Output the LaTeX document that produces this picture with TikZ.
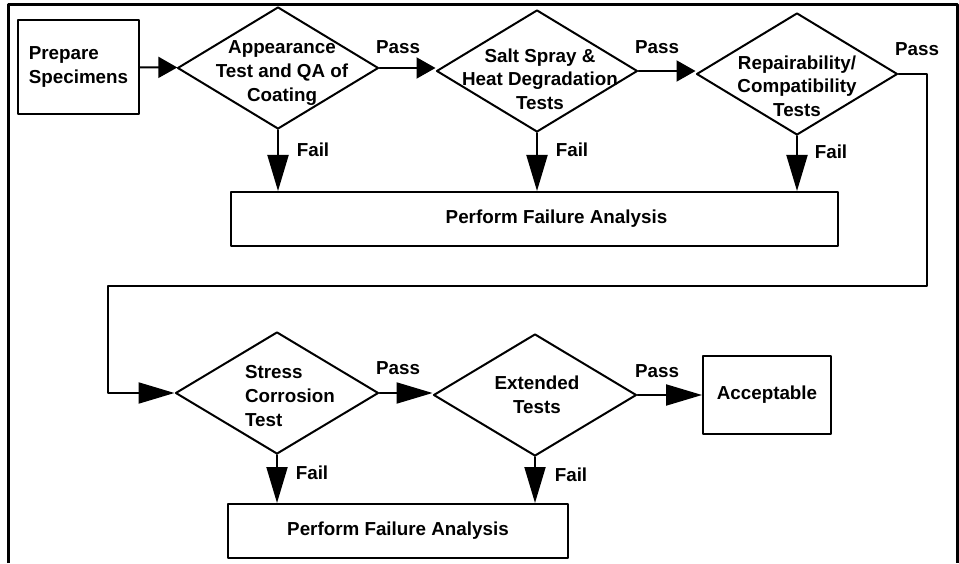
\documentclass[tikz,border=0pt]{standalone}
\usepackage{fontspec}
\setmainfont{Liberation Sans}
\usetikzlibrary{arrows.meta,shapes.geometric}

\begin{document}
\begin{tikzpicture}[line cap=round,line join=round,x=1cm,y=1cm,
    every node/.style={font=\fontsize{10.7pt}{13.4pt}\selectfont\bfseries},
    box/.style={rectangle,draw,line width=0.04cm,inner sep=0pt},
    dia/.style={diamond,draw,line width=0.04cm,inner sep=0pt,minimum width=4.02cm,minimum height=2.44cm},
    dtext/.style={align=center,inner sep=0pt},
    lbl/.style={inner sep=0pt},
    shortarr/.style={line width=0.04cm,-{Triangle[length=0.38cm,width=0.42cm]}},
    longarr/.style={line width=0.04cm,-{Triangle[length=0.72cm,width=0.42cm]}}]

    \useasboundingbox (0,0) rectangle (19.18,11.26);
    \draw[line width=0.06cm,line cap=butt] (0.18,0) -- (0.18,11.16) -- (19.14,11.16) -- (19.14,0);

    % First row
    \draw (1.57,9.92) node[box,minimum width=2.42cm,minimum height=1.88cm,align=left] (prep) {Prepare\\Specimens};
    \draw (5.56,9.90) node[dia] (d1) {};
    \draw (10.74,9.84) node[dia] (d2) {};
    \draw (15.94,9.78) node[dia] (d3) {};
    \node[dtext] (t1) at ([shift={(0.08,-0.1)}]d1) {Appearance\\Test and QA of\\Coating};
    \node[dtext] (t2) at ([shift={(0.06,-0.16)}]d2) {Salt Spray \&\\Heat Degradation\\Tests};
    \node[dtext] (t3) at ([shift={(0,-0.24)}]d3) {Repairability/\\Compatibility\\Tests};
    \draw (10.69,6.88) node[box,minimum width=12.14cm,minimum height=1.08cm] (fa1) {\hspace*{0.88cm}Perform Failure Analysis};

    % Second row
    \draw (5.54,3.40) node[dia,minimum width=4.06cm] (d4) {};
    \draw (10.70,3.36) node[dia,minimum width=4.06cm] (d5) {};
    \node[dtext,align=left] (t4) at ([shift={(0.26,-0.06)}]d4) {Stress\\Corrosion\\Test};
    \node[dtext] (t5) at ([shift={(0.04,0)}]d5) {Extended\\Tests};
    \draw (15.34,3.36) node[box,minimum width=2.56cm,minimum height=1.56cm] (ok) {Acceptable};
    \draw (7.96,0.64) node[box,minimum width=6.8cm,minimum height=1.08cm] (fa2) {Perform Failure Analysis};

    % Pass connectors
    \draw[shortarr] (prep) -- (d1);
    \draw[shortarr] (d1.east) -- (d1.east -| d2.west);
    \draw[shortarr] (d2.east) -- (d2.east -| d3.west);
    \coordinate (r) at (18.54,5.54);
    \coordinate (l) at (2.16,5.54);
    \draw[longarr] (d3.east) -| (r) -- (l) |- (d4.west);
    \draw[longarr] (d4.east) -- (d4.east -| d5.west);
    \draw[longarr] (d5.east) -- (d5.east -| ok.west);

    % Fail connectors
    \draw[longarr] (d1.south) -- (d1.south |- fa1.north);
    \draw[longarr] (d2.south) -- (d2.south |- fa1.north);
    \draw[longarr] (d3.south) -- (d3.south |- fa1.north);
    \draw[longarr] (d4.south) -- (d4.south |- fa2.north);
    \draw[longarr] (d5.south) -- (d5.south |- fa2.north);

    % Labels
    \node[lbl] (p1) at (7.96,10.32) {Pass};
    \node[lbl] (p2) at (13.14,10.32) {Pass};
    \node[lbl] (p3) at (18.34,10.28) {Pass};
    \node[lbl] (p4) at (7.96,3.90) {Pass};
    \node[lbl] (p5) at (13.14,3.84) {Pass};
    \node[lbl] (f1) at (6.26,8.26) {Fail};
    \node[lbl] (f2) at (11.44,8.26) {Fail};
    \node[lbl] (f3) at (16.62,8.22) {Fail};
    \node[lbl] (f4) at (6.24,1.80) {Fail};
    \node[lbl] (f5) at (11.42,1.76) {Fail};
\end{tikzpicture}
\end{document}
